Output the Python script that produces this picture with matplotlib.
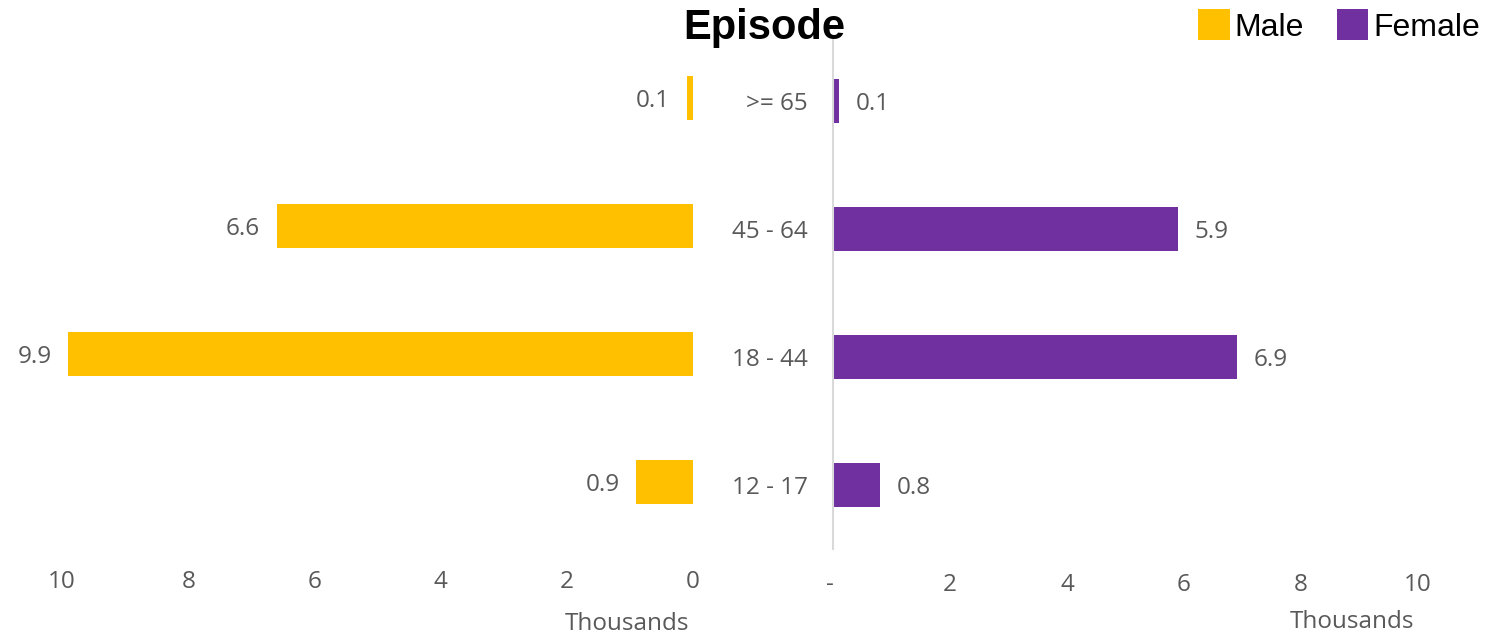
import matplotlib
matplotlib.use("Agg")
import matplotlib.pyplot as plt
from matplotlib.patches import Rectangle

# Age groups, bottom to top
age_groups = ["12 - 17", "18 - 44", "45 - 64", ">= 65"]
male = [0.9, 9.9, 6.6, 0.1]      # thousands
female = [0.8, 6.9, 5.9, 0.1]    # thousands
male_labels = ["0.9", "9.9", "6.6", "0.1"]
female_labels = ["0.8", "6.9", "5.9", "0.1"]
xticks = [0, 2, 4, 6, 8, 10]
female_xticklabels = ["- ", "2", "4", "6", "8", "10"]
series_names = ["Male", "Female"]

MALE_C = "#FFC000"
FEMALE_C = "#7030A0"
GREY = "#595959"
FONT = "Open Sans"
FS = 17.5

W, H = 1504, 633
fig = plt.figure(figsize=(W / 100, H / 100), dpi=100)

def frac(x0, y0, x1, y1):
    return [x0 / W, 1 - y1 / H, (x1 - x0) / W, (y1 - y0) / H]

ax_m = fig.add_axes(frac(62, 34, 693, 546))
ax_f = fig.add_axes(frac(833, 37, 1418, 549))

ypos = list(range(len(age_groups)))
bh = 0.35

bars_m = ax_m.barh(ypos, male, height=bh, color=MALE_C)
bars_f = ax_f.barh(ypos, female, height=bh, color=FEMALE_C)

for ax in (ax_m, ax_f):
    ax.set_xlim(0, 10)
    ax.set_ylim(-0.5, len(age_groups) - 0.5)
    ax.set_xticks(xticks)
    for s in ax.spines.values():
        s.set_visible(False)
    ax.tick_params(axis="x", length=0, pad=17, labelsize=FS, labelcolor=GREY)

ax_m.invert_xaxis()
ax_m.set_xticklabels([str(v) for v in xticks], fontfamily=FONT)
ax_m.set_yticks([])

ax_f.set_xticklabels(female_xticklabels, fontfamily=FONT)
ax_f.spines["left"].set_visible(True)
ax_f.spines["left"].set_color("#d9d9d9")
ax_f.spines["left"].set_linewidth(1.5)
ax_f.set_yticks(ypos)
ax_f.set_yticklabels(age_groups, fontfamily=FONT)
ax_f.tick_params(axis="y", length=0, pad=18, labelsize=FS, labelcolor=GREY)

for b, lab in zip(bars_m, male_labels):
    ax_m.annotate(lab, (b.get_width(), b.get_y() + b.get_height() / 2),
                  xytext=(-12, 0), textcoords="offset points",
                  ha="right", va="center_baseline", fontsize=FS, color=GREY,
                  fontfamily=FONT)
for b, lab in zip(bars_f, female_labels):
    ax_f.annotate(lab, (b.get_width(), b.get_y() + b.get_height() / 2),
                  xytext=(12, 0), textcoords="offset points",
                  ha="left", va="center_baseline", fontsize=FS, color=GREY,
                  fontfamily=FONT)

# Display-unit captions
fig.text(627 / W, 1 - 621 / H, "Thousands", ha="center", va="center_baseline",
         fontsize=FS, color=GREY, fontfamily=FONT)
fig.text(1352 / W, 1 - 619 / H, "Thousands", ha="center", va="center_baseline",
         fontsize=FS, color=GREY, fontfamily=FONT)

fig.text(764 / W, 1 - 28 / H, "Episode", ha="center", va="center",
         fontsize=30, fontweight="bold", color="black",
         fontfamily="Liberation Sans")

# Legend: colour swatch followed by series name
for (x0, x1, tx), col, name in zip([(1198, 1230, 1234), (1337, 1368, 1373)],
                                   [MALE_C, FEMALE_C], series_names):
    fig.add_artist(Rectangle((x0 / W, 1 - 40 / H), (x1 - x0) / W, 31 / H,
                             transform=fig.transFigure, facecolor=col,
                             edgecolor="none"))
    fig.text(tx / W, 1 - 25 / H, name, ha="left", va="center_baseline",
             fontsize=23, color="black", fontfamily="Liberation Sans")

fig.savefig("out.png", dpi=100)
